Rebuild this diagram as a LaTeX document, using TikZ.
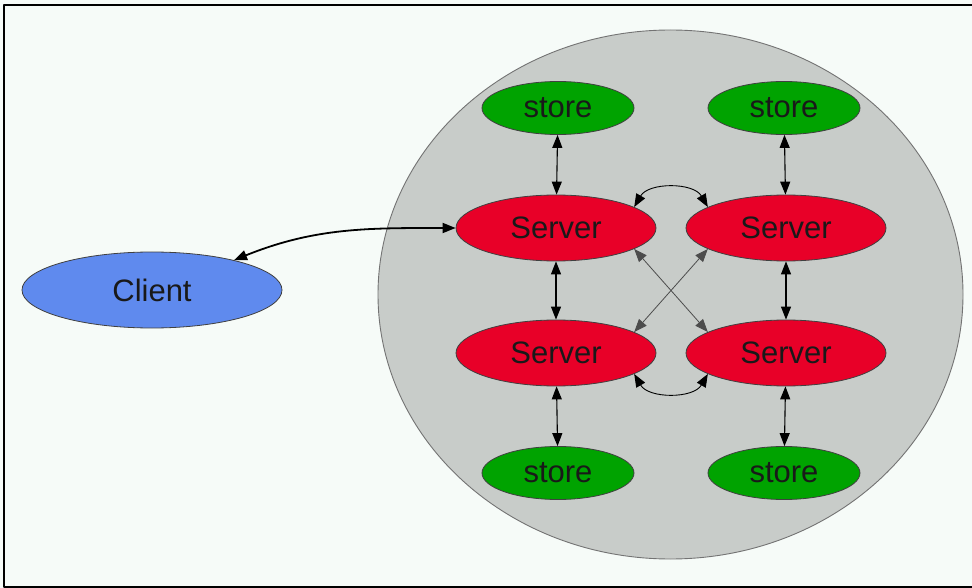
\documentclass[tikz,border=0pt]{standalone}
\usepackage{fontspec}
\setmainfont{Liberation Sans}
\usetikzlibrary{shapes.geometric,arrows.meta}
\definecolor{paper}{RGB}{246,251,248}
\definecolor{cloud}{RGB}{200,204,201}
\definecolor{srvred}{RGB}{232,0,40}
\definecolor{stgreen}{RGB}{0,163,0}
\definecolor{clblue}{RGB}{95,138,238}
\tikzset{base/.style={ellipse,draw=black!75,line width=0.8pt,inner sep=0pt,
  font=\fontsize{31}{31}\selectfont,text=black!90}}
\tikzset{srv/.style={base,fill=srvred,minimum width=200pt,minimum height=66pt}}
\tikzset{sto/.style={base,fill=stgreen,minimum width=152pt,minimum height=53pt}}
\tikzset{lnk/.style={{Triangle[length=13pt,width=10pt]}-{Triangle[length=13pt,width=10pt]},line width=1.1pt}}

\begin{document}
\begin{tikzpicture}[x=1pt,y=-1pt,line join=round]
  \useasboundingbox (0,0) rectangle (972,588);
  \fill[paper] (0,0) rectangle (972,588);
  \draw[line width=2.5pt] (972,5) -- (4,5) -- (4,587) -- (972,587);
  % the cluster
  \filldraw[fill=cloud,draw=black!55,line width=0.9pt] (670.5,294.5) ellipse (292.5 and 264.5);
  \node[base,fill=clblue,minimum width=260pt,minimum height=76pt] (C) at (152,290) {Client};
  \node[srv] (S1) at (556,228) {Server};
  \node[srv] (S2) at (786,228) {Server};
  \node[srv] (S3) at (556,353) {Server};
  \node[srv] (S4) at (786,353) {Server};
  \node[sto] (D1) at (558,108) {store};
  \node[sto] (D2) at (784,108) {store};
  \node[sto] (D3) at (558,473) {store};
  \node[sto] (D4) at (784,473) {store};
  % links
  \draw[lnk,line width=1.8pt] (C.20) to[out=22,in=180] (S1.west);
  \draw[lnk] (D1) -- (S1);
  \draw[lnk] (D2) -- (S2);
  \draw[lnk] (D3) -- (S3);
  \draw[lnk] (D4) -- (S4);
  \draw[lnk] (S1) -- (S3);
  \draw[lnk] (S2) -- (S4);
  \draw[lnk,line width=0.8pt,draw=black!70] (S1.-15) -- (S4.165);
  \draw[lnk,line width=0.8pt,draw=black!70] (S2.195) -- (S3.15);
  \draw[lnk,line width=0.9pt] (S1.15) to[out=60,in=120] (S2.165);
  \draw[lnk,line width=0.9pt] (S3.-15) to[out=-60,in=-120] (S4.195);
\end{tikzpicture}
\end{document}
